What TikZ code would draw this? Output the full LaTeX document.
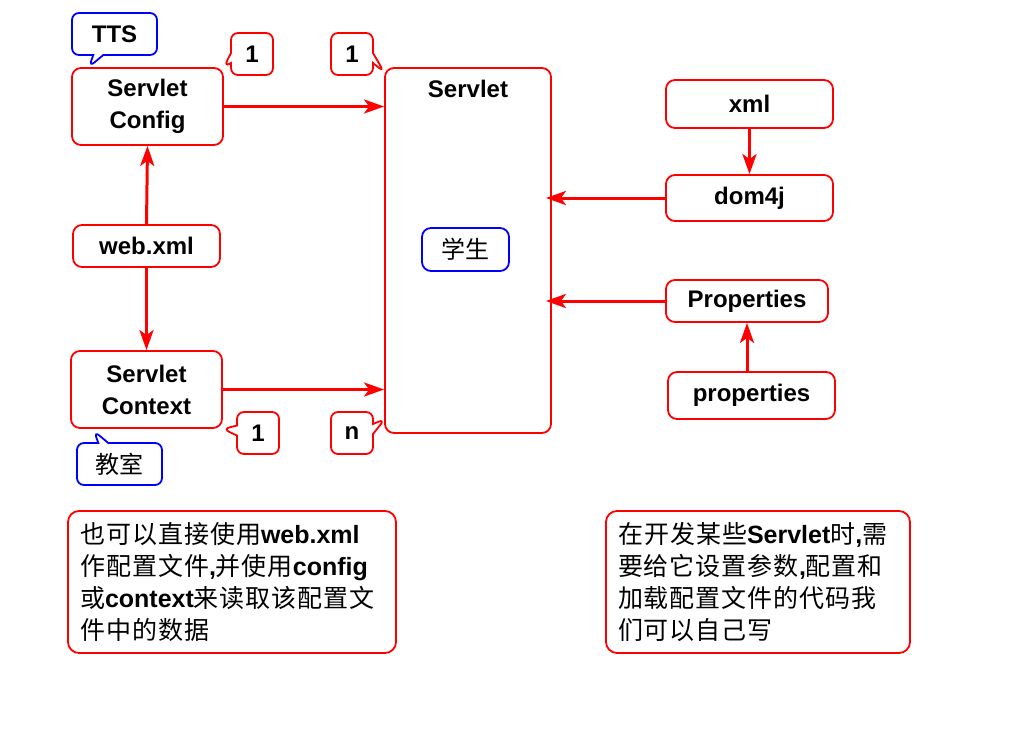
\documentclass[tikz,border=0pt]{standalone}
\usepackage{fontspec}
\setmainfont{Liberation Sans}
\newfontfamily\cjk[LetterSpace=4]{Noto Sans CJK SC}
\usetikzlibrary{calc,positioning,arrows.meta,shapes.callouts}
\newcommand{\zh}[1]{{\cjk\mdseries #1}}

\begin{document}
\begin{tikzpicture}[x=1pt,y=-1pt,
  box/.style={draw=red,line width=1.8pt,rounded corners=9pt,fill=white,inner sep=0pt,
    align=center,font=\fontsize{24}{32}\selectfont\bfseries},
  tag/.style={rectangle callout,draw=red,line width=1.8pt,rounded corners=7pt,fill=white,
    inner sep=0pt,minimum width=42pt,minimum height=42pt,callout pointer width=10pt,
    font=\fontsize{24}{28}\selectfont\bfseries},
  btag/.style={tag,draw=blue,minimum width=85pt},
  note/.style={draw=red,line width=1.8pt,rounded corners=11pt,inner xsep=12pt,inner ysep=0pt,
    minimum height=142pt,text width=304pt,align=left,font=\fontsize{25}{32}\selectfont\bfseries},
  link/.style={red,line width=3pt,-{Stealth[length=20pt,width=14pt,inset=5pt]}}]
  \useasboundingbox (0,0) rectangle (1024,738);

  \node[box,minimum width=151pt,minimum height=77pt] (config) at (147.5,106.5) {Servlet\\Config};
  \node[box,minimum width=147pt,minimum height=42pt] (web) at (146.5,246) {web.xml};
  \node[box,minimum width=151pt,minimum height=77pt] (context) at (146.5,389.5) {Servlet\\Context};
  \node[box,minimum width=166pt,minimum height=365pt] (servlet) at (468,250.5) {};
  \node[font=\fontsize{24}{28}\selectfont\bfseries,below=9pt of servlet.north] (title) {Servlet};
  \node[box,draw=blue,minimum width=87pt,minimum height=43pt] (stu) at (465.5,249.5) {\zh{学生}};
  \node[box,minimum width=167pt,minimum height=48pt] (xml) at (749.5,104) {xml};
  \node[box,minimum width=167pt,minimum height=46pt] (dom) at (749.5,198) {dom4j};
  \node[box,minimum width=162pt,minimum height=42pt] (Props) at (747,301) {Properties};
  \node[box,minimum width=167pt,minimum height=47pt] (props) at (751.5,395.5) {properties};

  \node[btag,callout absolute pointer={(89,67)}] (tts) at (114.5,34) {TTS};
  \node[btag,callout absolute pointer={(94,431)}] (room) at (119.5,464) {\zh{教室}};
  \node[tag,callout absolute pointer={(config.north east)}] (c1) at (252,54) {1};
  \node[tag,callout absolute pointer={(384,72)}] (s1) at (352,54) {1};
  \node[tag,callout absolute pointer={(context.south east)}] (c2) at (258,433) {1};
  \node[tag,callout absolute pointer={(385,419)}] (sn) at (352,433) {n};

  \draw[link] (config.east) -- (config.east -| servlet.west);
  \draw[link] (context.east) -- (context.east -| servlet.west);
  \draw[link] (web.north) -- (config.south);
  \draw[link] (web.south) -- (context.north);
  \draw[link,shorten >=-6pt] (dom.west) -- (dom.west -| servlet.east);
  \draw[link,shorten >=-6pt] (Props.west) -- (Props.west -| servlet.east);
  \draw[link] (xml.south) -- (dom.north);
  \draw[link] (Props.south |- props.north) -- (Props.south);

  \node[note] (left) at (232,582)
    {\zh{也可以直接使用}web.xml\\ \zh{作配置文件},\zh{并使用}config\\ \zh{或}context\zh{来读取该配置文}\\ \zh{件中的数据}};
  \node[note,minimum width=304pt,text width=280pt] (right) at (758,582)
    {\zh{在开发某些}Servlet\zh{时},\zh{需}\\ \zh{要给它设置参数},\zh{配置和}\\ \zh{加载配置文件的代码我}\\ \zh{们可以自己写}};
\end{tikzpicture}
\end{document}
